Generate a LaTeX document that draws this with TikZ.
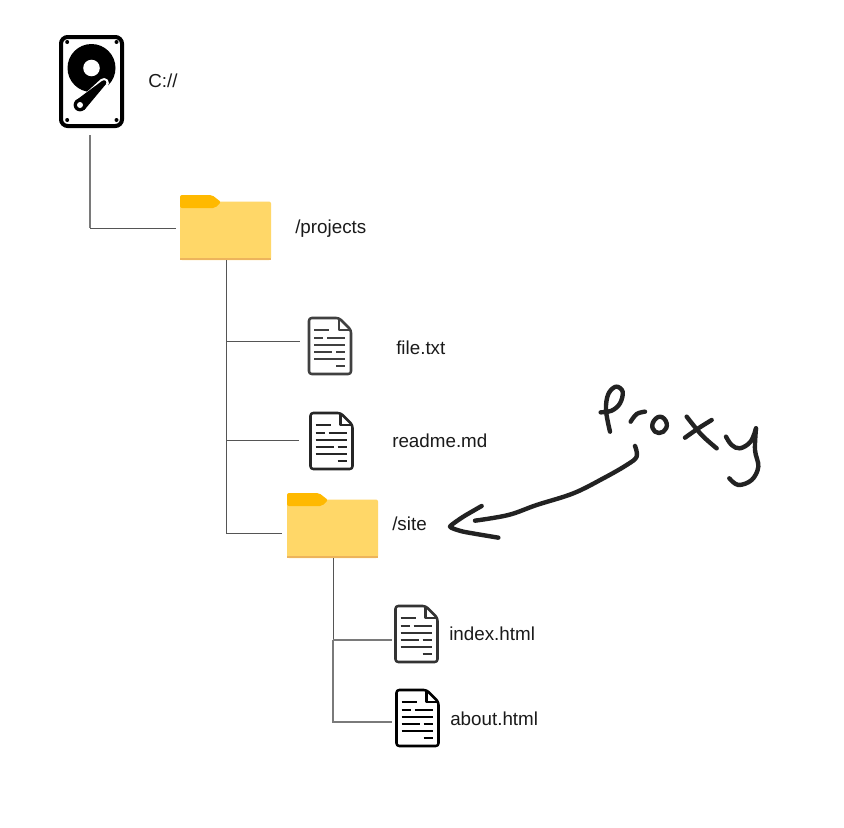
\documentclass[tikz,border=0pt]{standalone}
\usepackage{fontspec}
\setmainfont{Liberation Sans}
\usetikzlibrary{calc}
\definecolor{folderbody}{HTML}{FFD768}
\definecolor{foldertab}{HTML}{FFB900}
\definecolor{folderedge}{HTML}{EDB45C}
\definecolor{linkdark}{HTML}{555555}
\definecolor{linkgrey}{HTML}{7A7A7A}
\definecolor{inkblack}{HTML}{222222}
\definecolor{labelgrey}{HTML}{1A1A1A}
\tikzset{
  slot/.style={inner sep=0pt,outer sep=0pt,minimum width=#1*.75pt},
  label text/.style={anchor=west,inner sep=0pt,text=labelgrey,font=\fontsize{14.1pt}{16pt}\selectfont},
  link/.style={draw=linkdark,line width=.75pt},
  link soft/.style={draw=linkgrey,line width=1pt},
  ink/.style={draw=inkblack,line width=3.3pt,line cap=round,line join=round},
  docicon/.pic={
    \begin{scope}[shift={(-22,-29)}]
      \draw[line width=1.9pt,draw=#1,fill=white,line join=round,rounded corners=2pt]
        (1,1) -- (31,1) -- (43,13) -- (43,57) -- (1,57) -- cycle;
      \draw[line width=1.7pt,draw=#1,line join=round] (31,1) -- (31,13) -- (43,13);
      \draw[line width=1.7pt,draw=#1]
        (6,13) -- (21,13)
        (6,21) -- (15,21) (19,21) -- (37,21)
        (6,28) -- (37,28)
        (6,35) -- (24,35) (28,35) -- (37,35)
        (6,42) -- (37,42)
        (28,49) -- (37,49);
    \end{scope}
  },
  foldericon/.pic={
    \begin{scope}[shift={(-46,-32.5)}]
      \fill[folderbody,rounded corners=1.5pt] (0,6.5) rectangle (91,65);
      \fill[folderedge] (0,63) rectangle (91,65);
      \fill[foldertab,rounded corners=1.5pt] (0,13) -- (0,0) -- (32,0) -- (41,7) -- (35,13) -- cycle;
    \end{scope}
  },
  diskicon/.pic={
    \begin{scope}[shift={(-32,-46.5)}]
      \draw[line width=3pt,rounded corners=5pt,fill=white] (1.5,2) rectangle (62.5,91);
      \fill (32,33) circle (24);
      \fill[white] (32,33) circle (8.3);
      \foreach \sx/\sy in {7.7/7,57/7,7.7/85,57/85} \fill (\sx,\sy) circle (2);
      \draw[white,line width=7.5pt,line cap=round] (20.5,70) -- (44.5,48);
      \fill[white] (20.5,70) circle (9.5);
      \fill (15.8,65.8) -- (42.5,46) -- (46.5,49) -- (25,74.8) -- cycle;
      \fill (20.5,70) circle (6.4);
      \fill (44.5,47.5) circle (2.3);
      \fill[white] (20.5,70) circle (3);
    \end{scope}
  },
}
\begin{document}
\begin{tikzpicture}[x=.75pt,y=-.75pt]
\useasboundingbox (0,0) rectangle (844,828);
\fill[white] (0,0) rectangle (844,828);

% icon slots
\node[slot=65,minimum height=93*.75pt] (disk) at (91.5,81.5) {};
\node[slot=91,minimum height=65*.75pt] (projects) at (226,227.5) {};
\node[slot=44,minimum height=58*.75pt] (file) at (330,346) {};
\node[slot=44,minimum height=58*.75pt] (readme) at (331.5,441) {};
\node[slot=91,minimum height=65*.75pt] (site) at (333,525.5) {};
\node[slot=44,minimum height=58*.75pt] (index) at (416.5,634) {};
\node[slot=44,minimum height=58*.75pt] (about) at (417.5,718) {};

\pic at (disk) {diskicon};
\pic at (projects) {foldericon};
\pic at (file) {docicon=black!75};
\pic at (readme) {docicon=black!85};
\pic at (site) {foldericon};
\pic at (index) {docicon=black!80};
\pic at (about) {docicon=black};

% labels
\node[label text] (tdisk) at (148,81) {C://};
\node[label text] (tprojects) at (295,228.5) {/projects};
\node[label text] (tfile) at (396,348) {file.txt};
\node[label text] (treadme) at (392,441) {readme.md};
\node[label text] (tsite) at (392,524) {/site};
\node[label text] (tindex) at (449,634) {index.html};
\node[label text] (tabout) at (450,719) {about.html};

% free ends of the connectors
\coordinate (diskout) at (90,135);
\coordinate (projin) at (176,228);
\coordinate (filein) at (300,341);
\coordinate (readmein) at (299,440);
\coordinate (sitein) at (282,533);
\coordinate (indexin) at (392,640);
\coordinate (aboutin) at (392,722);

\draw[link soft] (diskout) -- (diskout |- projin);
\draw[link] (diskout |- projin) -- (projin);
\draw[link] (projects.south) |- (sitein);
\draw[link] (projects.south |- filein) -- (filein);
\draw[link] (projects.south |- readmein) -- (readmein);
\draw[link] (site.south) -- (site.south |- indexin);
\draw[link soft] (site.south |- indexin) |- (aboutin);
\draw[link soft] (site.south |- indexin) -- (indexin);

% handwritten note
\begin{scope}[shift={(430,370)},x=.25pt,y=-.25pt]
  \draw[ink] plot[smooth,tension=.6] coordinates {(540,185) (528,120) (535,72) (558,50) (578,65) (570,100) (545,122) (512,127)};
  \draw[ink] plot[smooth,tension=.6] coordinates {(602,155) (620,132) (645,125)};
  \draw[ink] plot[smooth cycle,tension=.8] coordinates {(690,140) (668,160) (675,185) (700,185) (710,160)};
  \draw[ink] plot[smooth,tension=.5] coordinates {(770,140) (815,195) (860,235)};
  \draw[ink] plot[smooth,tension=.5] coordinates {(845,150) (805,175) (765,203)};
  \draw[ink] plot[smooth,tension=.6] coordinates {(888,200) (905,225) (930,235) (962,215) (978,175)};
  \draw[ink] plot[smooth,tension=.6] coordinates {(978,175) (975,240) (985,290) (965,330) (925,345) (898,325)};
  \draw[ink] plot[smooth,tension=.6] coordinates {(615,228) (620,260) (590,285) (520,325) (430,370) (320,405) (235,435) (135,452)};
  \draw[ink] plot[smooth,tension=.3] coordinates {(155,408) (100,440) (60,470) (100,485) (205,503)};
\end{scope}
\end{tikzpicture}
\end{document}
